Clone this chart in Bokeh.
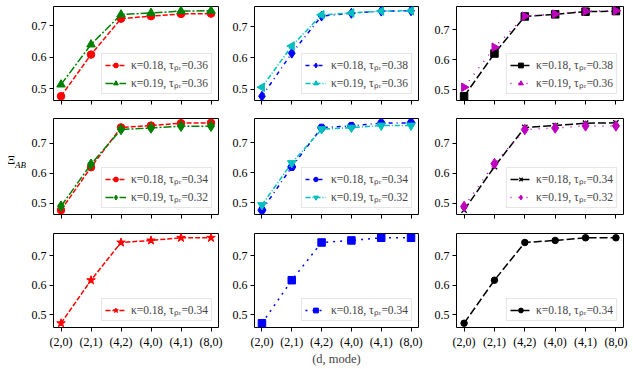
import math
from bokeh.plotting import figure
from bokeh.layouts import gridplot, row
from bokeh.models import Range1d
from bokeh.embed import file_html
from bokeh.resources import INLINE

# ---------------- data ----------------
modes = ["(2,0)", "(2,1)", "(4,2)", "(4,0)", "(4,1)", "(8,0)"]
y_ticks = [0.5, 0.6, 0.7]

r1c1_a = [0.476, 0.608, 0.722, 0.730, 0.737, 0.738]
r1c1_b = [0.513, 0.640, 0.735, 0.740, 0.746, 0.747]
r1c2_a = [0.477, 0.615, 0.734, 0.743, 0.750, 0.751]
r1c2_b = [0.506, 0.638, 0.738, 0.744, 0.750, 0.751]
r1c3_a = [0.478, 0.621, 0.745, 0.752, 0.761, 0.763]
r1c3_b = [0.508, 0.642, 0.746, 0.753, 0.762, 0.764]

r2c1_a = [0.478, 0.620, 0.752, 0.758, 0.766, 0.767]
r2c1_b = [0.491, 0.630, 0.745, 0.750, 0.756, 0.756]
r2c2_a = [0.476, 0.620, 0.751, 0.757, 0.766, 0.767]
r2c2_b = [0.493, 0.633, 0.746, 0.751, 0.758, 0.758]
r2c3_a = [0.478, 0.622, 0.752, 0.758, 0.766, 0.767]
r2c3_b = [0.490, 0.632, 0.745, 0.750, 0.757, 0.757]

r3c1 = [0.471, 0.617, 0.745, 0.752, 0.761, 0.761]
r3c2 = [0.471, 0.617, 0.745, 0.752, 0.761, 0.761]
r3c3 = [0.471, 0.617, 0.745, 0.752, 0.761, 0.761]

lab_18_36 = "κ=0.18, τₚᵣ=0.36"
lab_19_36 = "κ=0.19, τₚᵣ=0.36"
lab_18_38 = "κ=0.18, τₚᵣ=0.38"
lab_18_34 = "κ=0.18, τₚᵣ=0.34"
lab_19_32 = "κ=0.19, τₚᵣ=0.32"

x_label = "(d, mode)"
y_label_main = "Ξ"
y_label_sub = "AB"

# ---------------- styles ----------------
FONT = "Liberation Serif"
RED, GREEN, BLUE, CYAN, MAG, BLACK = "#ff0000", "#008000", "#0000ff", "#00bfbf", "#bf00bf", "#000000"
DASHED = "5 2"
DASHDOT = "8 2 2 2"
LOOSE_DD = "4 4 1 4"
DENSE_DD = "5 2 1 2"
LONGDASH = "8 3"
LOOSEDOT = "1 7"
BLUEDOT = "2 5"

panels = [
    [
        [(r1c1_a, lab_18_36, RED, DASHED, "circle", 7.5, 0), (r1c1_b, lab_19_36, GREEN, DASHDOT, "triangle", 8.5, 0)],
        [(r1c2_a, lab_18_38, BLUE, LOOSE_DD, "diamond", 10, 0), (r1c2_b, lab_19_36, CYAN, DENSE_DD, "triangle", 8.5, math.pi / 2)],
        [(r1c3_a, lab_18_38, BLACK, LONGDASH, "square", 7.5, 0), (r1c3_b, lab_19_36, MAG, LOOSEDOT, "triangle", 8.5, -math.pi / 2)],
    ],
    [
        [(r2c1_a, lab_18_34, RED, DASHED, "circle", 7.5, 0), (r2c1_b, lab_19_32, GREEN, DASHDOT, "diamond", 10.5, 0)],
        [(r2c2_a, lab_18_34, BLUE, LOOSE_DD, "hex", 8, 0), (r2c2_b, lab_19_32, CYAN, DENSE_DD, "inverted_triangle", 8.5, 0)],
        [(r2c3_a, lab_18_34, BLACK, LONGDASH, "x", 7.5, 0), (r2c3_b, lab_19_32, MAG, LOOSEDOT, "diamond", 10.5, 0)],
    ],
    [
        [(r3c1, lab_18_34, RED, DASHED, "star", 9, 0)],
        [(r3c2, lab_18_34, BLUE, BLUEDOT, "square", 7.5, 0)],
        [(r3c3, lab_18_34, BLACK, LONGDASH, "circle", 6.5, 0)],
    ],
]

LBL_W = 26
TOTAL_H = 369
COL_W = [200, 200, 207]
COL_L = [27, 28, 30]
COL_R = [8, 8, 10]
ROW_H = [117, 115, 137]
ROW_T = [6, 1, 1]
ROW_B = [17, 18, 42]

xs = list(range(len(modes)))
grid = []
for ri, prow in enumerate(panels):
    grow = []
    for ci, series in enumerate(prow):
        p = figure(width=COL_W[ci], height=ROW_H[ri], output_backend="svg",
                   toolbar_location=None, x_range=Range1d(-0.25, 5.25),
                   min_border_left=COL_L[ci], min_border_right=COL_R[ci],
                   min_border_top=ROW_T[ri], min_border_bottom=ROW_B[ri])
        p.y_range.range_padding = 0.1
        for vals, lab, col, dash, mk, sz, ang in series:
            p.line(xs, vals, line_color=col, line_width=1.5, line_dash=dash, legend_label=lab)
            p.scatter(xs, vals, marker=mk, size=sz, angle=ang, fill_color=col, line_color=col,
                      line_width=1.3 if mk == "x" else 1, legend_label=lab)
        p.xgrid.visible = False
        p.ygrid.visible = False
        p.outline_line_color = "black"
        p.outline_line_width = 1
        p.axis.axis_line_color = None
        p.axis.major_tick_in = 0
        p.axis.major_tick_out = 4
        p.axis.minor_tick_in = 0
        p.axis.minor_tick_out = 0
        p.axis.major_tick_line_color = "black"
        p.axis.major_label_text_font = FONT
        p.axis.major_label_text_font_size = "12px"
        p.axis.major_label_text_color = "black"
        p.axis.major_label_standoff = 3
        p.yaxis.ticker = y_ticks
        p.xaxis.ticker = xs
        if ri < 2:
            p.xaxis.major_label_overrides = {i: "" for i in xs}
            p.xaxis.major_label_standoff = 0
        else:
            p.xaxis.major_label_overrides = {i: m for i, m in enumerate(modes)}
        if ri == 2 and ci == 1:
            p.xaxis.axis_label = x_label
            p.xaxis.axis_label_text_font = FONT
            p.xaxis.axis_label_text_font_size = "12.5px"
            p.xaxis.axis_label_text_font_style = "normal"
            p.xaxis.axis_label_standoff = 0
        lg = p.legend[0]
        lg.location = "bottom_right"
        lg.label_text_font = FONT
        lg.label_text_font_size = "11.5px"
        lg.glyph_width = 21
        lg.glyph_height = 12
        lg.label_height = 12
        lg.label_standoff = 5
        lg.spacing = 3
        lg.padding = 3
        lg.margin = 6
        lg.border_line_color = "#cccccc"
        lg.border_line_width = 1
        lg.background_fill_alpha = 0.8
        grow.append(p)
    grid.append(grow)

# narrow strip carrying the shared y-axis label
lp = figure(width=LBL_W, height=TOTAL_H, output_backend="svg", toolbar_location=None,
            x_range=Range1d(0, LBL_W), y_range=Range1d(0, TOTAL_H),
            min_border=0)
lp.axis.visible = False
lp.grid.visible = False
lp.outline_line_color = None
lp.text(x=[7], y=[TOTAL_H - 159], text=[y_label_main], text_font=FONT, text_font_size="12px",
        text_baseline="alphabetic", text_color="black")
lp.text(x=[14.5], y=[TOTAL_H - 164], text=[y_label_sub], text_font=FONT, text_font_size="9px",
        text_font_style="italic", text_baseline="alphabetic", text_color="black")

layout = row(lp, gridplot(grid, toolbar_location=None))
open("out.html", "w").write(file_html(layout, INLINE))
